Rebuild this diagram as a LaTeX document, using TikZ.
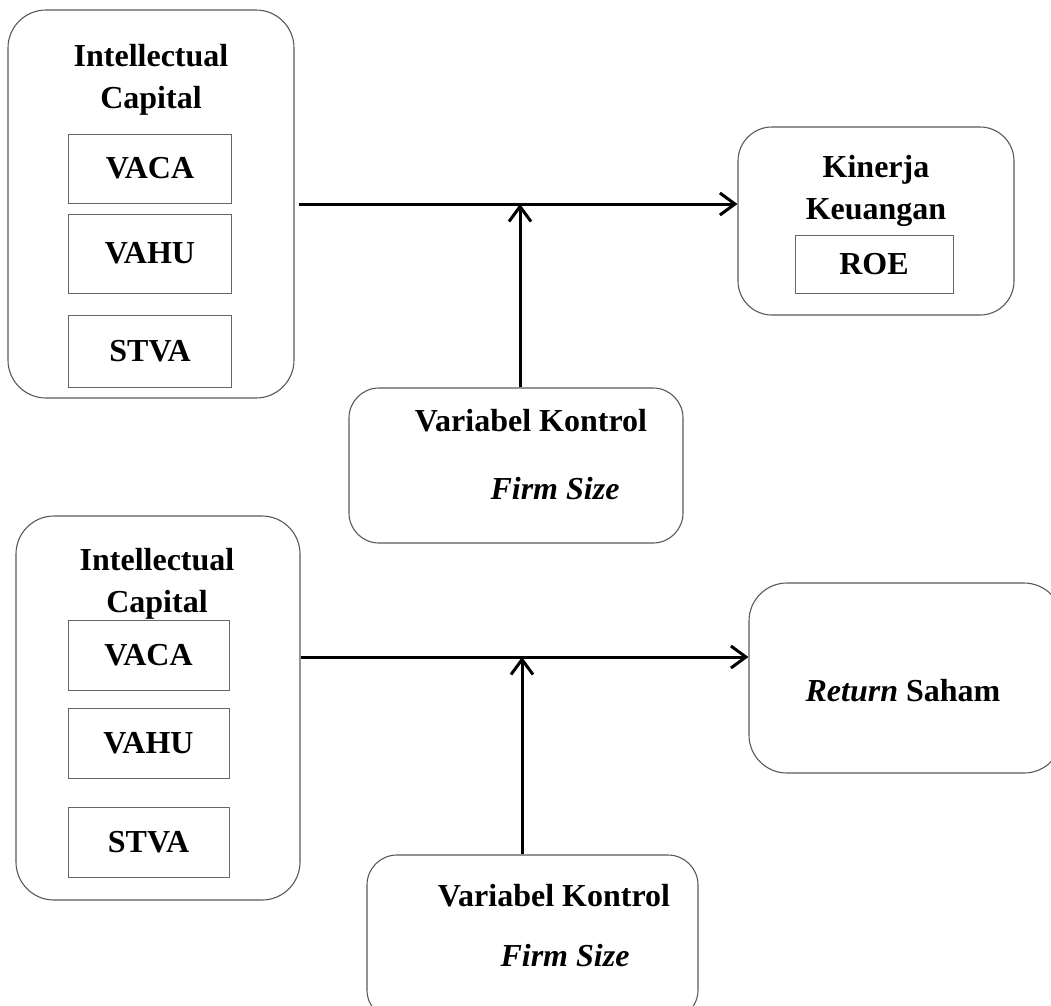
\documentclass[tikz,border=0pt]{standalone}
\usepackage{fontspec}
\setmainfont{Liberation Serif}
\usetikzlibrary{arrows.meta}

\tikzset{
	outerbox/.style={draw=black!65, line width=1.1pt, rounded corners=38pt, inner sep=0pt},
	innerbox/.style={draw=black!60, line width=1pt, inner sep=0pt, minimum width=163pt,
		font=\fontsize{32}{42}\selectfont\bfseries},
	lbl/.style={font=\fontsize{32}{42}\selectfont\bfseries, align=center, inner sep=0pt},
	flow/.style={line width=3pt, -{Straight Barb[length=15pt,width=22pt,line width=3pt]}},
}

\begin{document}
\begin{tikzpicture}[x=1pt,y=-1pt]
	\clip (0,0) rectangle (1051,1005);
	% Model 1
	\node[outerbox, minimum width=286pt, minimum height=388pt] (ic1) at (151,204) {};
	\node[lbl] (ic1t) at (151,80) {Intellectual\\Capital};
	\foreach \n/\t/\y/\h in {vaca1/VACA/168.5/69, vahu1/VAHU/253.5/79, stva1/STVA/351/72} {
		\node[innerbox, minimum height=\h pt] (\n) at (150,\y) {\t};
	}
	\node[outerbox, rounded corners=34pt, minimum width=276pt, minimum height=188pt] (kin) at (876,221) {};
	\node[lbl] (kint) at (876,191) {Kinerja\\Keuangan};
	\node[innerbox, minimum width=158pt, minimum height=58pt] (roe) at (874,264) {ROE};
	\node[outerbox, rounded corners=30pt, minimum width=334pt, minimum height=155pt] (vk1) at (516,465.5) {};
	\node[lbl, anchor=base] (vk1a) at (531,431) {Variabel Kontrol};
	\node[lbl, anchor=base, font=\fontsize{32}{42}\selectfont\bfseries\itshape] (vk1b) at (555,499) {Firm Size};
	\coordinate (c1) at (520,204);
	\draw[flow, shorten <=4pt] (ic1.east) -- (ic1.east -| kin.west);
	\draw[flow] (c1 |- vk1.north) -- (c1);

	% Model 2
	\node[outerbox, minimum width=284pt, minimum height=384pt] (ic2) at (158,708) {};
	\node[lbl] (ic2t) at (157,584) {Intellectual\\Capital};
	\foreach \n/\t/\y in {vaca2/VACA/655, vahu2/VAHU/743, stva2/STVA/842} {
		\node[innerbox, minimum width=161pt, minimum height=70pt] (\n) at (148.5,\y) {\t};
	}
	\node[outerbox, minimum width=313pt, minimum height=190pt] (ret) at (905.5,678) {};
	\node[lbl, anchor=base] (rett) at (903,701) {\textit{Return} Saham};
	\node[outerbox, rounded corners=30pt, minimum width=331pt, minimum height=165pt] (vk2) at (532.5,937.5) {};
	\node[lbl, anchor=base] (vk2a) at (554,906) {Variabel Kontrol};
	\node[lbl, anchor=base, font=\fontsize{32}{42}\selectfont\bfseries\itshape] (vk2b) at (565,966) {Firm Size};
	\coordinate (c2) at (522,657);
	\draw[flow] (ic2.east |- c2) -- (c2 -| ret.west);
	\draw[flow] (c2 |- vk2.north) -- (c2);
\end{tikzpicture}
\end{document}
